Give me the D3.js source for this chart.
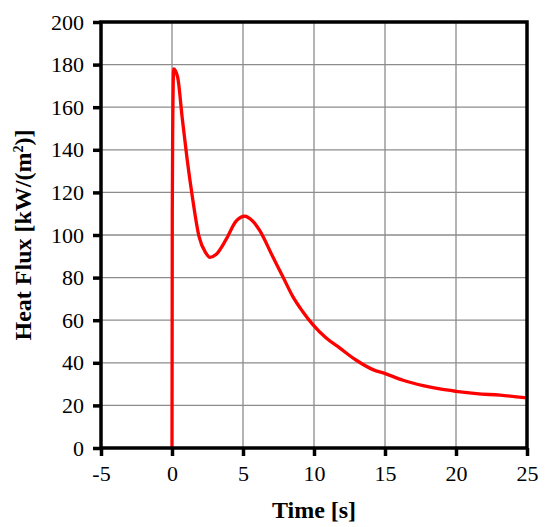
<!DOCTYPE html>
<html>
<head>
<meta charset="utf-8">
<script src="https://cdn.jsdelivr.net/npm/d3@7"></script>
<style>
  body { margin: 0; background: #fff; }
  text { font-family: "Liberation Serif", "DejaVu Serif", serif; }
</style>
</head>
<body>
<div id="chart"></div>
<script>
// time [s] and heat flux [kW/m2]
const timeValues = [0, 0.02, 0.05, 0.12, 0.4, 0.71, 1.07, 1.43, 1.9, 2.38, 2.67, 3.1, 3.8, 4.5, 5.12, 5.7, 6.15,
  7.09, 7.8, 8.5, 9.2, 9.92, 10.86, 11.8, 12.98, 14.15, 15.02, 16.27, 17.68, 18.86, 20.0, 21.45, 23.1, 25];
const fluxValues = [0, 111, 150, 178, 174, 155.6, 135.3, 118.1, 99.4, 91.6, 89.5, 90.8, 97.8, 106.4, 108.8, 106.4, 102.4,
  89.9, 80.5, 71.2, 64.1, 57.9, 51.6, 47.0, 41.2, 36.8, 34.9, 31.8, 29.3, 27.7, 26.6, 25.5, 24.8, 23.5];
const xTicks = [-5, 0, 5, 10, 15, 20, 25];
const yTicks = [0, 20, 40, 60, 80, 100, 120, 140, 160, 180, 200];

const data = timeValues.map((t, i) => ({ t: t, q: fluxValues[i] }));

const width = 550, height = 527;
const margin = { top: 22, right: 23, bottom: 79, left: 101 };
const w = width - margin.left - margin.right;
const h = height - margin.top - margin.bottom;

const svg = d3.select("#chart")
  .append("svg")
  .attr("width", width)
  .attr("height", height);

const g = svg.append("g")
  .attr("transform", `translate(${margin.left},${margin.top})`);

const x = d3.scaleLinear().domain([-5, 25]).range([0, w]);
const y = d3.scaleLinear().domain([0, 200]).range([h, 0]);

// grid
g.append("g")
  .selectAll("line")
  .data(xTicks)
  .enter()
  .append("line")
  .attr("x1", d => x(d)).attr("x2", d => x(d))
  .attr("y1", 0).attr("y2", h)
  .attr("stroke", "#8c8c8c")
  .attr("stroke-width", 1.3);

g.append("g")
  .selectAll("line")
  .data(yTicks)
  .enter()
  .append("line")
  .attr("x1", 0).attr("x2", w)
  .attr("y1", d => y(d)).attr("y2", d => y(d))
  .attr("stroke", "#8c8c8c")
  .attr("stroke-width", 1.3);

// curve
const line = d3.line()
  .x(d => x(d.t))
  .y(d => y(d.q))
  .curve(d3.curveMonotoneX);

g.append("path")
  .datum(data)
  .attr("fill", "none")
  .attr("stroke", "#ff0000")
  .attr("stroke-width", 3.3)
  .attr("stroke-linejoin", "round")
  .attr("d", line);

// frame
g.append("rect")
  .attr("x", 0).attr("y", 0)
  .attr("width", w).attr("height", h)
  .attr("fill", "none")
  .attr("stroke", "#000")
  .attr("stroke-width", 3.5);

// axes
const xAxis = g.append("g")
  .attr("transform", `translate(0,${h})`)
  .call(d3.axisBottom(x).tickValues(xTicks).tickSize(8).tickPadding(9).tickFormat(d => String(d)))
  .attr("font-family", "'Liberation Serif', serif")
  .attr("font-size", 22);
xAxis.select(".domain").remove();
xAxis.selectAll("line").attr("stroke", "#000").attr("stroke-width", 3.5);
xAxis.selectAll("text").attr("fill", "#000");

const yAxis = g.append("g")
  .call(d3.axisLeft(y).tickValues(yTicks).tickSize(8).tickPadding(9).tickFormat(d => String(d)))
  .attr("font-family", "'Liberation Serif', serif")
  .attr("font-size", 22);
yAxis.select(".domain").remove();
yAxis.selectAll("line").attr("stroke", "#000").attr("stroke-width", 3.5);
yAxis.selectAll("text").attr("fill", "#000");

// titles
svg.append("text")
  .attr("x", margin.left + w / 2)
  .attr("y", 518)
  .attr("text-anchor", "middle")
  .attr("font-size", 24)
  .attr("font-weight", "bold")
  .text("Time [s]");

const yt = svg.append("text")
  .attr("transform", `translate(31,${margin.top + h / 2}) rotate(-90)`)
  .attr("text-anchor", "middle")
  .attr("font-size", 24)
  .attr("font-weight", "bold");
yt.append("tspan").text("Heat Flux [kW/(m");
yt.append("tspan").attr("font-size", 14).attr("dy", -8).text("2");
yt.append("tspan").attr("dy", 8).text(")]");
</script>
</body>
</html>
